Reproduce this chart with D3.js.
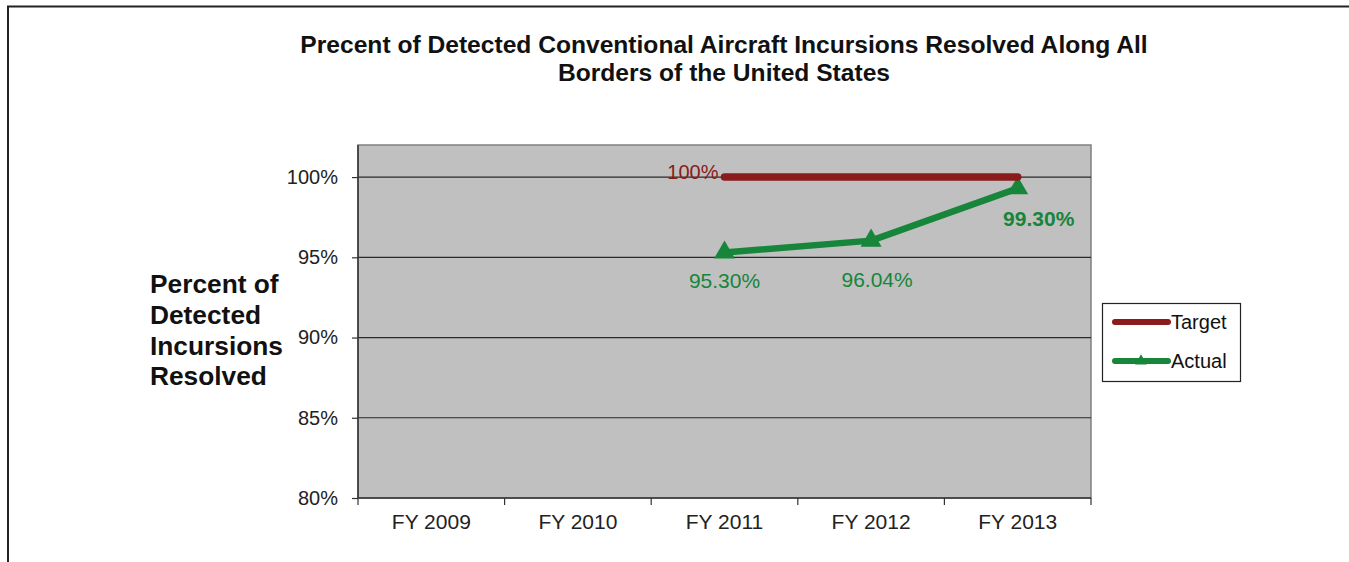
<!DOCTYPE html>
<html><head><meta charset="utf-8">
<script src="https://cdn.jsdelivr.net/npm/d3@7"></script>
<style>body{margin:0;background:#fff;}svg{display:block;font-family:"Liberation Sans",Arial,sans-serif;}</style>
</head><body><svg id="c" width="1349" height="562"></svg>
<script>
const categories = ["FY 2009","FY 2010","FY 2011","FY 2012","FY 2013"];
const targetValues = [null,null,100,100,100];
const actualValues = [null,null,95.30,96.04,99.30];
const actualLabels = [null,null,"95.30%","96.04%","99.30%"];
const yTicks = [80,85,90,95,100];
const titleLines = ["Precent of Detected Conventional Aircraft Incursions Resolved Along All","Borders of the United States"];
const yTitleLines = ["Percent of","Detected","Incursions","Resolved"];

const svg = d3.select("#c");
const L=358,R=1091,T=145,B=498;
const x = d3.scaleBand().domain(categories).range([L,R]);
const y = d3.scaleLinear().domain([80,102]).range([B,T]);
const cx = c => x(c)+x.bandwidth()/2;
const FF = "Liberation Sans, Arial, sans-serif";

// outer border
svg.append("path").attr("d","M8,562V6.5H1349").attr("fill","none").attr("stroke","#222").attr("stroke-width",2);

// title
svg.append("g").selectAll("text").data(titleLines).join("text")
 .attr("x",724).attr("y",(d,i)=>53+i*28).attr("text-anchor","middle")
 .attr("font-size",24.6).attr("font-weight","bold").attr("fill","#111").text(d=>d);

// plot bg
svg.append("rect").attr("x",L).attr("y",T).attr("width",R-L).attr("height",B-T)
 .attr("fill","#c0c0c0").attr("stroke","#808080").attr("stroke-width",1.5);

// grid
svg.append("g").selectAll("line").data(yTicks.filter(d=>d>80)).join("line")
 .attr("x1",L).attr("x2",R).attr("y1",d=>y(d)).attr("y2",d=>y(d))
 .attr("stroke","#2a2a2a").attr("stroke-width",1.2);

// y axis
const ya = svg.append("g").attr("transform",`translate(${L},0)`)
 .call(d3.axisLeft(y).tickValues(yTicks).tickSize(6).tickPadding(14).tickFormat(d=>d+"%"));
ya.select(".domain").attr("stroke","#333").attr("stroke-width",1.5).attr("d",`M0,${T}V${B}`);
ya.selectAll(".tick line").attr("stroke","#333").attr("stroke-width",1.2);
ya.selectAll(".tick text").attr("font-size",20).attr("fill","#222").attr("font-family",FF);

// x axis
const xa = svg.append("g").attr("transform",`translate(0,${B})`)
 .call(d3.axisBottom(x).tickSize(0).tickPadding(16));
xa.select(".domain").attr("stroke","#333").attr("stroke-width",1.5).attr("d",`M${L},0H${R}`);
xa.selectAll(".tick text").attr("font-size",21).attr("fill","#222").attr("font-family",FF);
svg.append("g").selectAll("line").data(categories.concat(["end"])).join("line")
 .attr("x1",(d,i)=>L+i*x.bandwidth()).attr("x2",(d,i)=>L+i*x.bandwidth())
 .attr("y1",B).attr("y2",B+7).attr("stroke","#333").attr("stroke-width",1.2);

// y title
svg.append("g").selectAll("text").data(yTitleLines).join("text")
 .attr("x",150).attr("y",(d,i)=>293+i*30.8).attr("font-size",26.3).attr("font-weight","bold").attr("fill","#111").text(d=>d);

const tgtColor="#8b1a1a", actColor="#17853a";
const line = d3.line().defined(d=>d.v!=null).x(d=>cx(d.c)).y(d=>y(d.v));
const tData = categories.map((c,i)=>({c,v:targetValues[i]}));
const aData = categories.map((c,i)=>({c,v:actualValues[i]}));

svg.append("path").datum(aData).attr("d",line).attr("fill","none").attr("stroke",actColor)
 .attr("stroke-width",6.5).attr("stroke-linejoin","round");
const tri = d3.symbol().type(d3.symbolTriangle).size(190);
svg.append("g").selectAll("path").data(aData.filter(d=>d.v!=null)).join("path")
 .attr("d",tri).attr("transform",d=>`translate(${cx(d.c)},${y(d.v)})`).attr("fill",actColor);

svg.append("path").datum(tData).attr("d",line).attr("fill","none").attr("stroke",tgtColor)
 .attr("stroke-width",7.5).attr("stroke-linecap","round");

// labels
const firstT = tData.find(d=>d.v!=null);
svg.append("text").attr("x",cx(firstT.c)-6).attr("y",y(firstT.v)+2).attr("text-anchor","end")
 .attr("font-size",20).attr("fill",tgtColor).text(firstT.v+"%");

const lblOff = [null,null,[0,35],[6,46],[21,38]];
svg.append("g").selectAll("text").data(aData.map((d,i)=>({...d,i})).filter(d=>d.v!=null)).join("text")
 .attr("x",d=>cx(d.c)+lblOff[d.i][0]).attr("y",d=>y(d.v)+lblOff[d.i][1])
 .attr("text-anchor","middle").attr("font-size",21).attr("fill",actColor)
 .attr("font-weight",d=>d.i==4?"bold":"normal").text(d=>actualLabels[d.i]);

// legend
const lg = svg.append("g");
lg.append("rect").attr("x",1102.5).attr("y",303.5).attr("width",138).attr("height",78)
 .attr("fill","#fff").attr("stroke","#222").attr("stroke-width",1.2);
const items=[{n:"Target",c:tgtColor,m:false},{n:"Actual",c:actColor,m:true}];
items.forEach((it,i)=>{
  const yy=322+i*39;
  lg.append("line").attr("x1",1115).attr("x2",1168).attr("y1",yy).attr("y2",yy)
   .attr("stroke",it.c).attr("stroke-width",6).attr("stroke-linecap","round");
  if(it.m) lg.append("path").attr("d",d3.symbol().type(d3.symbolTriangle).size(60)).attr("transform",`translate(1141,${yy})`).attr("fill",it.c);
  lg.append("text").attr("x",1171).attr("y",yy+7).attr("font-size",20).attr("fill","#111").text(it.n);
});
</script></body></html>
